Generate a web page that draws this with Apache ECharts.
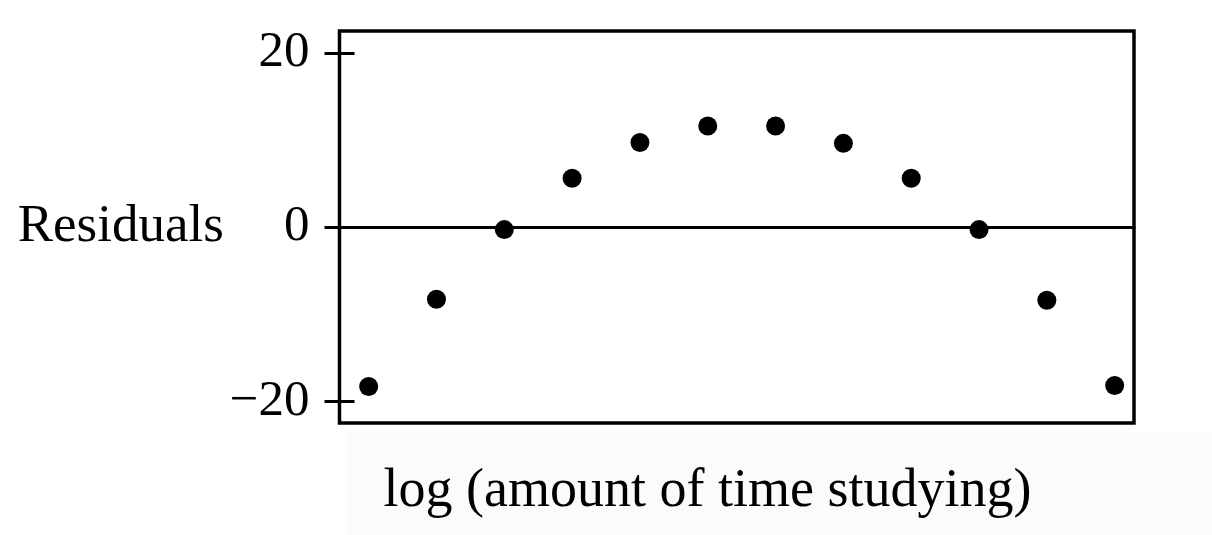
<!DOCTYPE html>
<html>
<head>
<meta charset="utf-8">
<script src="https://cdn.jsdelivr.net/npm/echarts@6/dist/echarts.min.js"></script>
<style>
html,body{margin:0;padding:0;background:#fff;}
#chart{width:1212px;height:535px;}
</style>
</head>
<body>
<div id="chart"></div>
<script>
const xValues = [1, 2, 3, 4, 5, 6, 7, 8, 9, 10, 11, 12];
const residuals = [-18.3, -8.3, -0.3, 5.6, 9.7, 11.6, 11.6, 9.6, 5.6, -0.3, -8.4, -18.2];
const yTicks = [-20, 0, 20];
const yTitle = 'Residuals';
const xTitle = 'log (amount of time studying)';

const points = xValues.map((x, i) => [x, residuals[i]]);
const serif = '"Liberation Serif", "DejaVu Serif", serif';

const chart = echarts.init(document.getElementById('chart'), null, {renderer: 'canvas'});
chart.setOption({
  animation: false,
  backgroundColor: '#ffffff',
  graphic: [
    {type: 'rect', z: -10, shape: {x: 347, y: 432, width: 865, height: 103}, style: {fill: '#fbfbfb'}},
    {type: 'text', z: 10, style: {x: 707.5, y: 492, text: xTitle, font: '54px ' + serif, fill: '#000', textAlign: 'center', textVerticalAlign: 'middle'}}
  ],
  grid: {left: 339.5, right: 78, top: 31, bottom: 112, show: true, borderColor: '#000', borderWidth: 3.5, backgroundColor: 'transparent'},
  xAxis: {
    type: 'value', min: 0.57, max: 12.285,
    axisLine: {show: true, onZero: true, lineStyle: {color: '#000', width: 3}},
    axisTick: {show: false}, axisLabel: {show: false}, splitLine: {show: false}
  },
  yAxis: {
    type: 'value', min: -22.5, max: 22.5, position: 'left', offset: -15,
    name: yTitle, nameLocation: 'middle', nameRotate: 0, nameGap: 123,
    nameTextStyle: {fontFamily: serif, fontSize: 53, color: '#000', align: 'right', verticalAlign: 'middle'},
    axisLine: {show: false},
    axisTick: {show: true, inside: false, length: 30, customValues: yTicks, lineStyle: {color: '#000', width: 3}},
    axisLabel: {show: true, margin: 45, customValues: yTicks, fontFamily: serif, fontSize: 51, color: '#000',
      formatter: v => (v < 0 ? '\u2212' + Math.abs(v) : String(v))},
    splitLine: {show: false}
  },
  series: [{
    type: 'scatter', data: points, symbol: 'circle', symbolSize: 19,
    itemStyle: {color: '#000', opacity: 1}, z: 5
  }]
});
</script>
</body>
</html>
